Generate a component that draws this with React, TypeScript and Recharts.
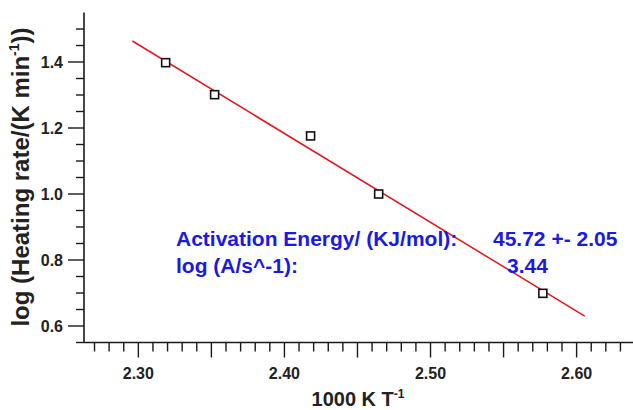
import React from 'react';
import { ComposedChart, XAxis, YAxis, Scatter, Line } from 'recharts';

// Measured points: 1000/T (K^-1) vs log(heating rate)
const invT = [2.3187, 2.3522, 2.4179, 2.4645, 2.5769];
const logRate = [1.398, 1.301, 1.176, 1.0, 0.699];

// Linear fit line end points
const fitX = [2.2959, 2.6055];
const fitY = [1.4636, 0.63];

const xLabelTicks = [2.3, 2.4, 2.5, 2.6];
const yLabelTicks = [0.6, 0.8, 1.0, 1.2, 1.4];

const xDomain = [2.2628, 2.6386];
const yDomain = [0.55, 1.55];

const annotation1Label = 'Activation Energy/ (KJ/mol):';
const annotation1Value = '45.72 +- 2.05';
const annotation2Label = 'log (A/s^-1):';
const annotation2Value = '3.44';

// minor ticks every 0.01 on x, every 0.05 on y
const xTicks: number[] = [];
for (let k = 227; k <= 263; k++) xTicks.push(k / 100);
const yTicks: number[] = [];
for (let k = 11; k <= 30; k++) yTicks.push(k * 5 / 100);

const points = invT.map((x, i) => ({ x, y: logRate[i] }));
const fit = fitX.map((x, i) => ({ x, y: fitY[i] }));

const FONT = '"Liberation Sans", Arial, Helvetica, sans-serif';
const AXIS = '#1a1a1a';

const XTick = (props: any) => {
  const { x, y, payload } = props;
  const v = payload.value as number;
  const k = Math.round(v * 100);
  const major = k % 5 === 0;
  const labeled = xLabelTicks.some((t) => Math.abs(t - v) < 1e-6);
  return (
    <g>
      <line x1={x} y1={y} x2={x} y2={y + (major ? 15 : 9)} stroke={AXIS} strokeWidth={1.4} />
      {labeled && (
        <text x={x} y={y + 36} textAnchor="middle" fontFamily={FONT} fontWeight="bold" fontSize={16} fill="#222">
          {v.toFixed(2)}
        </text>
      )}
    </g>
  );
};

const YTick = (props: any) => {
  const { x, y, payload } = props;
  const v = payload.value as number;
  const labeled = yLabelTicks.some((t) => Math.abs(t - v) < 1e-6);
  return (
    <g>
      <line x1={x - (labeled ? 16 : 8)} y1={y} x2={x} y2={y} stroke={AXIS} strokeWidth={1.4} />
      {labeled && (
        <text x={x - 21} y={y} dy="0.36em" textAnchor="end" fontFamily={FONT} fontWeight="bold" fontSize={16} fill="#222">
          {v.toFixed(1)}
        </text>
      )}
    </g>
  );
};

const Square = (props: any) => {
  const { cx, cy } = props;
  if (cx == null || cy == null) return null;
  return <rect x={cx - 4} y={cy - 4} width={8} height={8} fill="#fff" stroke="#111" strokeWidth={1.6} />;
};

const XTitle = () => (
  <text x={358} y={406} textAnchor="middle" fontFamily={FONT} fontWeight="bold" fontSize={20} fill="#222">
    1000 K T
    <tspan dy={-8} fontSize={12}>-1</tspan>
  </text>
);

const YTitle = () => (
  <text
    x={0}
    y={0}
    transform="translate(29,177) rotate(-90)"
    textAnchor="middle"
    fontFamily={FONT}
    fontWeight="bold"
    fontSize={24}
    fill="#222"
  >
    log (Heating rate/(K min
    <tspan dy={-10} fontSize={14}>-1</tspan>
    <tspan dy={10}>))</tspan>
  </text>
);

const BLUE = '#1a1ae2';

export default function App() {
  return (
    <div style={{ position: 'absolute', left: 0, top: 0, width: 633, height: 410, background: '#fff' }}>
      <ComposedChart width={633} height={410} margin={{ top: 12.5, right: 0, bottom: 0, left: 0 }}>
        <XAxis
          type="number"
          dataKey="x"
          domain={xDomain}
          allowDataOverflow
          ticks={xTicks}
          interval={0}
          tickSize={0}
          tickMargin={0}
          tickLine={false}
          tick={<XTick />}
          height={67.5}
          axisLine={{ stroke: AXIS, strokeWidth: 1.6 }}
          label={{ content: () => <XTitle /> }}
        />
        <YAxis
          type="number"
          dataKey="y"
          domain={yDomain}
          allowDataOverflow
          ticks={yTicks}
          interval={0}
          tickSize={0}
          tickMargin={0}
          tickLine={false}
          tick={<YTick />}
          width={84}
          axisLine={{ stroke: AXIS, strokeWidth: 1.6 }}
          label={{ content: () => <YTitle /> }}
        />
        <Line
          data={fit}
          dataKey="y"
          stroke="#e4161b"
          strokeWidth={1.5}
          dot={false}
          activeDot={false}
          isAnimationActive={false}
        />
        <Scatter data={points} dataKey="y" shape={<Square />} isAnimationActive={false} />
      </ComposedChart>
      <svg width={633} height={410} style={{ position: 'absolute', left: 0, top: 0, pointerEvents: 'none' }}>
        <g fontFamily={FONT} fontWeight="bold" fontSize={21} fill={BLUE}>
          <text x={176} y={246}>{annotation1Label}</text>
          <text x={493} y={246}>{annotation1Value}</text>
          <text x={176} y={273}>{annotation2Label}</text>
          <text x={507} y={273}>{annotation2Value}</text>
        </g>
      </svg>
    </div>
  );
}
